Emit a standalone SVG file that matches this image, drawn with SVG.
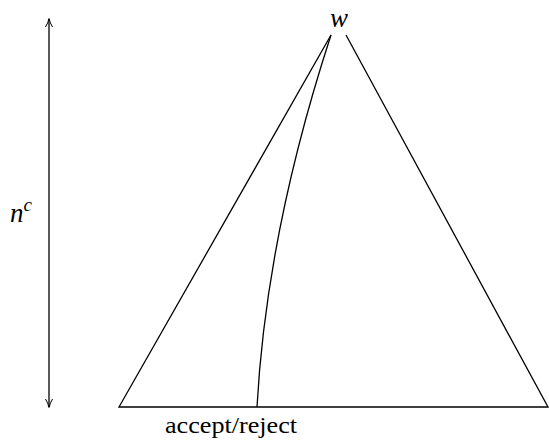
<svg xmlns="http://www.w3.org/2000/svg" width="549" height="442" viewBox="0 0 549 442">
<style>
.ln{fill:none;stroke:#000;stroke-width:1.3}
.t{font-family:"Liberation Serif","Times New Roman",serif;fill:#000}
</style>
<defs>
<marker id="ah" viewBox="0 0 10 10" refX="9" refY="5" markerWidth="10" markerHeight="10" markerUnits="userSpaceOnUse" orient="auto-start-reverse">
<path d="M1,1.5 Q5,4 9.5,5 Q5,6 1,8.5" fill="none" stroke="#000" stroke-width="1"/>
</marker>
</defs>
<rect width="549" height="442" fill="#fff"/>
<g id="connectors">
<line class="ln" x1="49" y1="19" x2="49" y2="407" marker-start="url(#ah)" marker-end="url(#ah)"/>
</g>
<g id="tree">
<path class="ln" d="M331,35 L119,407 L548,407 L346,35"/>
<path class="ln" d="M331,35 C300,130 265,260 257,407"/>
</g>
<g id="label-w"><text class="t" x="339" y="27" font-size="27" font-style="italic" text-anchor="middle">w</text></g>
<g id="label-nc"><text class="t" x="10" y="222" font-size="27" font-style="italic">n<tspan font-size="19" dy="-11">c</tspan></text></g>
<g id="label-accept"><text class="t" x="165" y="433" font-size="24" textLength="132" lengthAdjust="spacingAndGlyphs">accept/reject</text></g>
</svg>
